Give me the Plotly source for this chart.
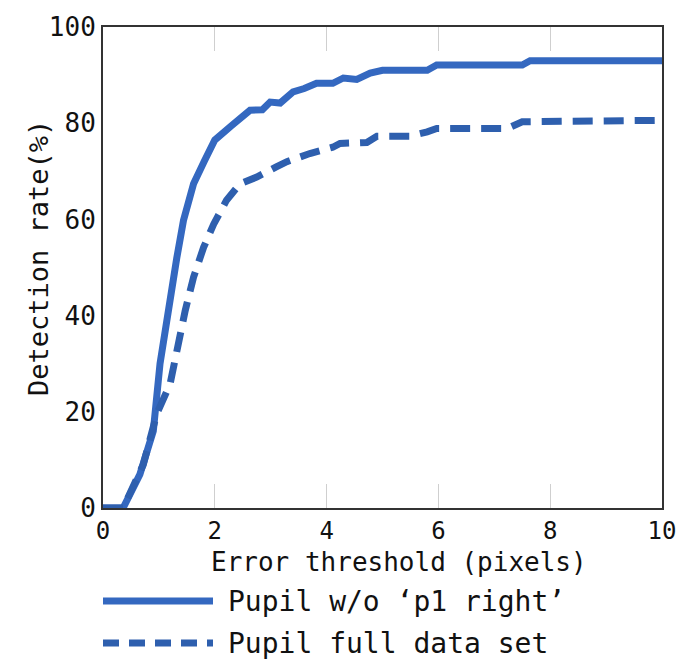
import plotly.graph_objects as go

# Data
solid_x = [0.0, 0.36, 0.66, 0.90, 1.02, 1.17, 1.32, 1.44, 1.62, 1.82, 2.0, 2.3, 2.63, 2.85, 2.99, 3.17, 3.4, 3.6, 3.82, 4.11, 4.3, 4.54, 4.78, 5.0, 5.8, 5.97, 7.5, 7.64, 10.0]
solid_y = [0.0, 0.0, 7.0, 16.0, 30.0, 41.7, 52.0, 59.8, 67.4, 72.3, 76.5, 79.5, 82.7, 82.8, 84.4, 84.2, 86.5, 87.2, 88.3, 88.3, 89.4, 89.1, 90.4, 91.0, 91.0, 92.1, 92.1, 93.0, 93.0]

dash_x = [0.0, 0.36, 0.72, 0.96, 1.2, 1.32, 1.47, 1.62, 1.8, 1.98, 2.21, 2.45, 2.75, 3.1, 3.29, 3.7, 4.11, 4.24, 4.72, 4.9, 5.49, 5.8, 5.97, 7.23, 7.5, 10.0]
dash_y = [0.0, 0.0, 9.0, 19.5, 25.8, 33.4, 41.0, 48.0, 54.2, 59.0, 64.0, 67.4, 68.8, 70.9, 72.0, 73.7, 75.0, 75.8, 76.0, 77.3, 77.3, 78.2, 78.9, 78.9, 80.3, 80.6]

x_ticks = [0, 2, 4, 6, 8, 10]
y_ticks = [0, 20, 40, 60, 80, 100]

series_names = ["Pupil w/o \u2018p1 right\u2019", "Pupil full data set"]
x_title = "Error threshold (pixels)"
y_title = "Detection rate(%)"

SOLID_COLOR = "#3468c0"
DASH_COLOR = "#2e5fae"
FONT = "DejaVu Sans Mono"

fig = go.Figure()
fig.add_trace(go.Scatter(x=solid_x, y=solid_y, mode="lines",
                         line=dict(color=SOLID_COLOR, width=7),
                         name=series_names[0], showlegend=False))
fig.add_trace(go.Scatter(x=dash_x, y=dash_y, mode="lines",
                         line=dict(color=DASH_COLOR, width=7, dash="20px,11px"),
                         name=series_names[1], showlegend=False))

L, R, T, B = 103, 26, 27, 157
W, H = 688, 665
pw = W - L - R
ph = H - T - B

def px_x(p):
    return (p - L) / pw

def px_y(p):
    return (H - B - p) / ph

# manual legend
shapes = [
    dict(type="line", xref="paper", yref="paper", x0=px_x(103), x1=px_x(213),
         y0=px_y(601), y1=px_y(601), line=dict(color=SOLID_COLOR, width=7)),
    dict(type="line", xref="paper", yref="paper", x0=px_x(103), x1=px_x(213),
         y0=px_y(643), y1=px_y(643), line=dict(color=DASH_COLOR, width=7, dash="16px,10px")),
]
annotations = [
    dict(text=series_names[0], xref="paper", yref="paper", x=px_x(226), y=px_y(601),
         xanchor="left", yanchor="middle", showarrow=False,
         font=dict(family=FONT, size=28, color="#111")),
    dict(text=series_names[1], xref="paper", yref="paper", x=px_x(226), y=px_y(643),
         xanchor="left", yanchor="middle", showarrow=False,
         font=dict(family=FONT, size=28, color="#111")),
    dict(text=x_title, xref="paper", yref="paper", x=px_x(399), y=px_y(562),
         xanchor="center", yanchor="middle", showarrow=False,
         font=dict(family=FONT, size=26, color="#111")),
    dict(text=y_title, xref="paper", yref="paper", x=px_x(38), y=px_y(258),
         xanchor="center", yanchor="middle", showarrow=False, textangle=-90,
         font=dict(family=FONT, size=27, color="#111")),
]

fig.update_layout(
    width=W, height=H,
    margin=dict(l=L, r=R, t=T, b=B, pad=0),
    paper_bgcolor="white", plot_bgcolor="white",
    font=dict(family=FONT, size=26, color="#111"),
    shapes=shapes, annotations=annotations,
    xaxis=dict(range=[0, 10], tickvals=x_ticks, ticktext=[str(v) for v in x_ticks],
               showgrid=False, zeroline=False, showline=True, linecolor="#333", linewidth=2,
               mirror="all", ticks="inside", ticklen=24, tickcolor="#cfcfcf", tickwidth=1,
               ticklabelstandoff=0, tickfont=dict(family=FONT, size=24, color="#111")),
    yaxis=dict(range=[0, 100], tickvals=y_ticks, ticktext=[str(v) for v in y_ticks],
               showgrid=False, zeroline=False, showline=True, linecolor="#333", linewidth=2,
               mirror=True, ticks="", ticklabelstandoff=0,
               tickfont=dict(family=FONT, size=26, color="#111")),
)

fig.write_html("out.html")
